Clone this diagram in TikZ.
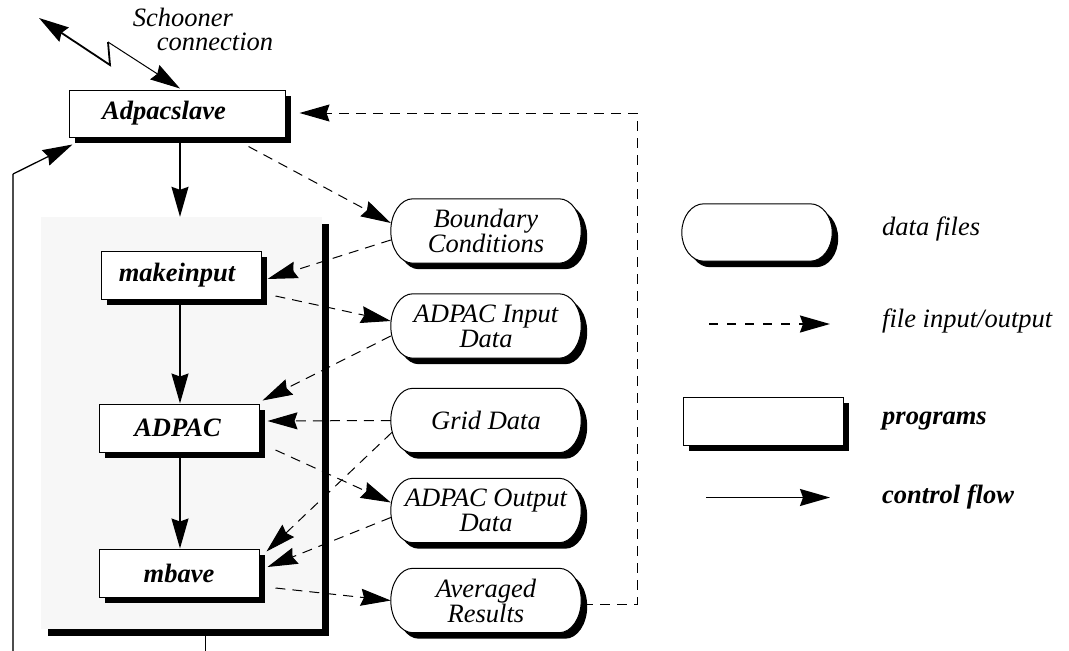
\documentclass[tikz,border=0pt]{standalone}
\usepackage{fontspec}
\setmainfont{Liberation Serif}
\usetikzlibrary{arrows.meta,shadows,calc}
\tikzset{
  prog/.style={draw,line width=1pt,fill=white,minimum width=160pt,minimum height=48pt,
    inner sep=0pt,font=\fontsize{26.5}{25}\selectfont\bfseries\itshape,
    drop shadow={fill=black,opacity=1,shadow xshift=6pt,shadow yshift=-6pt}},
  datafile/.style={draw=none,minimum width=190pt,minimum height=64pt,inner sep=0pt},
  datatext/.style={align=center,inner sep=0pt,font=\fontsize{26.5}{25}\selectfont\itshape},
  lbl/.style={anchor=west,inner sep=0pt,font=\fontsize{26.5}{25}\selectfont\itshape},
  blbl/.style={anchor=west,inner sep=0pt,font=\fontsize{26.5}{25}\selectfont\bfseries\itshape},
  ahead/.style={-{Stealth[length=30pt,width=17pt,inset=3pt]}},
  flow/.style={ahead,line width=1.3pt},
  io/.style={ahead,line width=1pt,dash pattern=on 10pt off 7pt},
}
% stadium outline with elliptic ends, drawn from a node's anchors
\newcommand\datashape[1]{%
  \foreach \sty in {{fill=black,transform canvas={shift={(6pt,-6pt)}}},{fill=white,draw=black,line width=1pt}}{
  \path[style/.expanded=\sty] ($(#1.north west)+(22,0)$) -- ($(#1.north east)+(-22,0)$)
    .. controls ($(#1.north east)+(-9.85,0)$) and ($(#1.east)!0.5523!(#1.north east)$) .. (#1.east)
    .. controls ($(#1.east)!0.5523!(#1.south east)$) and ($(#1.south east)+(-9.85,0)$) .. ($(#1.south east)+(-22,0)$)
    -- ($(#1.south west)+(22,0)$)
    .. controls ($(#1.south west)+(9.85,0)$) and ($(#1.west)!0.5523!(#1.south west)$) .. (#1.west)
    .. controls ($(#1.west)!0.5523!(#1.north west)$) and ($(#1.north west)+(9.85,0)$) .. ($(#1.north west)+(22,0)$)
    -- cycle;}%
}
\tikzset{style/.code={\tikzset{#1}}}
\begin{document}
\begin{tikzpicture}[x=1pt,y=-1pt]
\clip (0,0) rectangle (1069,651);
\fill[white] (0,0) rectangle (1069,651);
% group box
\node[fill=black!3,minimum width=281pt,minimum height=412pt,inner sep=0pt,
  drop shadow={fill=black,opacity=1,shadow xshift=7pt,shadow yshift=-7pt}] (grp) at (181.5,423) {};
% programs
\node[prog,minimum width=216pt,minimum height=47pt] (slave) at (177,113.5) {\hspace*{-26pt}Adpacslave};
\node[prog] (mk) at (181,275) {\hspace*{-8pt}makeinput};
\node[prog] (adpac) at (179,428) {\hspace*{-3pt}ADPAC};
\node[prog] (mbave) at (179,573) {mbave};
% data files
\node[datafile] (bc) at (486,231) {};
\node[datafile] (aid) at (486,326) {};
\node[datafile] (gd) at (486,420.5) {};
\node[datafile] (aod) at (486,510.5) {};
\node[datafile] (ar) at (486,600.5) {};
\datashape{bc}\datashape{aid}\datashape{gd}\datashape{aod}\datashape{ar}
\node[datatext] (bct) at (bc) {Boundary\\Conditions};
\node[datatext] (aidt) at (aid) {ADPAC Input\\Data};
\node[datatext] (gdt) at (gd) {Grid Data};
\node[datatext] (aodt) at (aod) {ADPAC Output\\Data};
\node[datatext] (art) at (ar) {Averaged\\Results};
% schooner
\node[font=\fontsize{26.5}{25}\selectfont\itshape,inner sep=0pt] (sch1) at (183,17) {Schooner};
\node[font=\fontsize{26.5}{25}\selectfont\itshape,inner sep=0pt] (sch2) at (215,42) {connection};
\coordinate (z0) at (39,18);
\coordinate (z1) at (110,65);
\coordinate (z2) at (108,42);
\draw[line width=1.8pt,{Stealth[length=30pt,width=17pt,inset=3pt]}-] (z0) -- (z1) -- (z2);
\draw[line width=1pt,ahead] (z2) -- ($(slave.north)+(3,-1)$);
% control flow
\draw[flow] (slave.south -| 180,0) -- (grp.north -| 180,0);
\draw[flow] (mk.south -| 180,0) -- (adpac.north -| 180,0);
\draw[flow] (adpac.south -| 180,0) -- (mbave.north -| 180,0);
\coordinate (fb1) at (205,700);
\coordinate (fb2) at (13,700);
\coordinate (fb3) at (13,174);
\draw[line width=1pt] (grp.south -| fb1) ++(0,7) -- (fb1);
\draw[line width=1.3pt,black!70] (fb1) -- (fb2) -- (fb3);
\draw[flow] (fb3) -- ($(slave.south west)+(4,7)$);
% file io
\draw[io] ($(slave.south east)+(-37,9)$) -- ($(bc.west)+(0,-8)$);
\draw[io] ($(bc.west)+(0,9)$) -- ($(mk.east)+(6,4)$);
\draw[io] ($(mk.east)+(14,21)$) -- ($(aid.west)+(0,-5)$);
\draw[io] ($(aid.west)+(0,10)$) -- ($(adpac.north east)+(3,-3)$);
\draw[io] (gd.west) -- ($(adpac.east)+(8,-7)$);
\draw[io] ($(adpac.east)+(16,22)$) -- ($(aod.west)+(0,-8)$);
\draw[io] ($(gd.west)+(1,12)$) -- ($(mbave.north east)+(7,3)$);
\draw[io] ($(aod.west)+(0,7)$) -- ($(mbave.east)+(8,-6)$);
\draw[io] ($(mbave.east)+(16,15)$) -- (ar.west);
\coordinate (r1) at (637,604);
\coordinate (r2) at (637,113);
\draw[io] ($(ar.east)+(2,3.5)$) -- (r1) -- (r2) -- ($(slave.east)+(14,-0.5)$);
% legend
\node[datafile,minimum width=150pt,minimum height=57pt] (lgdata) at (757,232.5) {};
\datashape{lgdata}
\node[lbl] (lgdatat) at (882,229) {data files};
\coordinate (lio1) at (709,324);
\coordinate (lio2) at (830,324);
\draw[ahead,line width=1.8pt,dash pattern=on 9pt off 9pt] (lio1) -- (lio2);
\node[lbl] (lgiot) at (882,321) {file input/output};
\node[prog] (lgprog) at (763,421) {};
\node[blbl] (lgprogt) at (882,421) {programs};
\coordinate (lcf1) at (706,497.5);
\coordinate (lcf2) at (830,497.5);
\draw[flow,line width=1.6pt] (lcf1) -- (lcf2);
\node[blbl] (lgcft) at (882,497) {control flow};
\end{tikzpicture}
\end{document}
